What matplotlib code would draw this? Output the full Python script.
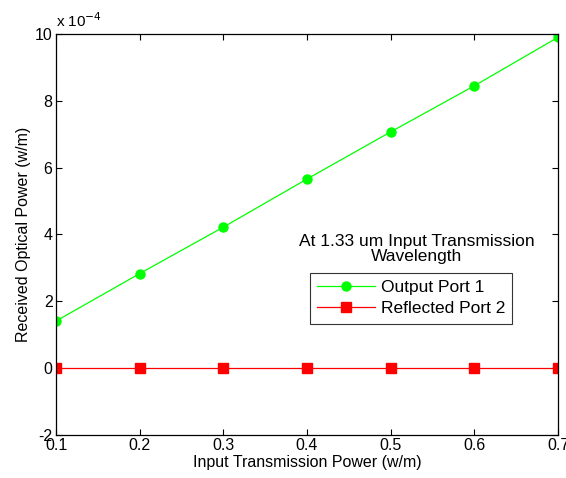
import matplotlib.pyplot as plt
from matplotlib.ticker import FuncFormatter

# data
power_in = [0.1, 0.2, 0.3, 0.4, 0.5, 0.6, 0.7]
output_port1 = [1.41e-4, 2.83e-4, 4.22e-4, 5.66e-4, 7.07e-4, 8.45e-4, 9.90e-4]
reflected_port2 = [0, 0, 0, 0, 0, 0, 0]

plt.rcParams['font.family'] = ['Liberation Sans', 'DejaVu Sans']
plt.rcParams['font.size'] = 11.5

fig = plt.figure(figsize=(5.66, 4.78), dpi=100)
ax = fig.add_axes([0.099, 0.09, 0.887, 0.839])

ax.plot(power_in, output_port1, color='#00ff00', lw=0.9, marker='o',
        ms=6.5, label='Output Port 1')
ax.plot(power_in, reflected_port2, color='#ff0000', lw=0.9, marker='s',
        ms=6.5, label='Reflected Port 2')

ax.set_xlim(0.1, 0.7)
ax.set_ylim(-2e-4, 10e-4)
ax.set_xticks(power_in)
ax.set_yticks([-2e-4, 0, 2e-4, 4e-4, 6e-4, 8e-4, 10e-4])
ax.yaxis.set_major_formatter(FuncFormatter(lambda v, p: f'{round(v / 1e-4):d}'))
ax.xaxis.set_major_formatter(FuncFormatter(lambda v, p: f'{v:.1f}'))
ax.tick_params(direction='in', top=True, right=True, length=4, width=0.8,
               labelsize=11.5, pad=2.5)
for s in ax.spines.values():
    s.set_linewidth(0.9)

ax.text(0.0, 1.01, r'x 10$^{-4}$', transform=ax.transAxes, ha='left', va='bottom', fontsize=11)

ax.set_xlabel('Input Transmission Power (w/m)', labelpad=1)
ax.set_ylabel('Received Optical Power (w/m)', labelpad=3)

ax.text(0.531, 3.56e-4, 'At 1.33 um Input Transmission\nWavelength',
        ha='center', va='center', fontsize=12.5, linespacing=1.05)

leg = ax.legend(loc='upper left', bbox_to_anchor=(0.506, 0.405),
                fancybox=False, edgecolor='black', fontsize=12.5,
                handlelength=3.3, handletextpad=0.35, borderaxespad=0,
                borderpad=0.42, labelspacing=0.35)
leg.get_frame().set_linewidth(0.8)

plt.savefig('out.png', dpi=100)
